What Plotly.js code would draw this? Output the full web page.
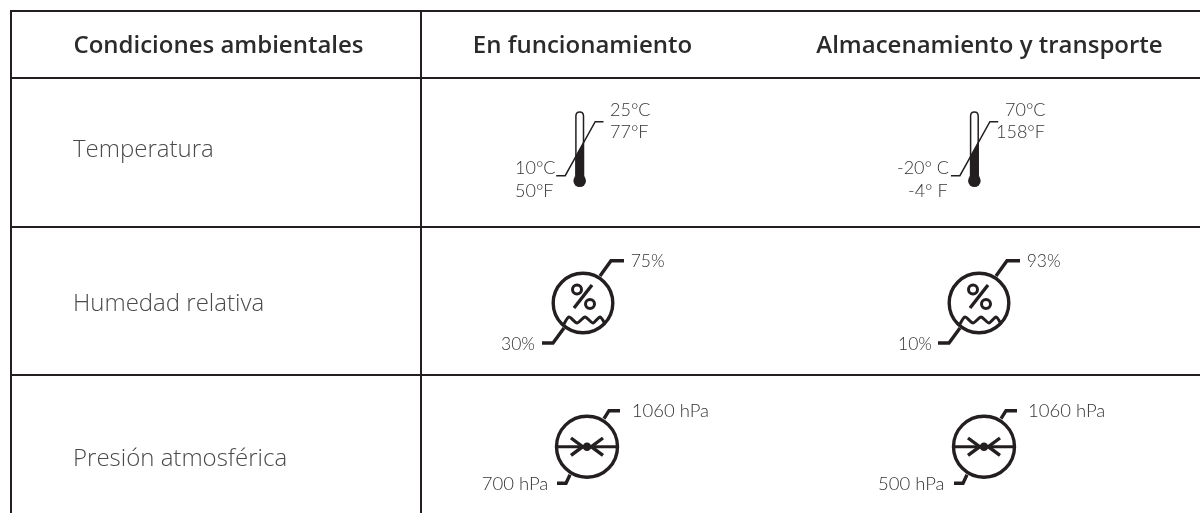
<!DOCTYPE html>
<html>
<head>
<meta charset="utf-8">
<script src="https://cdn.plot.ly/plotly-3.0.1.min.js"></script>
<style>html,body{margin:0;padding:0;background:#fff}#chart{width:1200px;height:514px;will-change:transform}</style>
</head>
<body>
<div id="chart"></div>
<script>
// ---- Table content ----
const columnHeaders = ["Condiciones ambientales", "En funcionamiento", "Almacenamiento y transporte"];
const rowLabels = ["Temperatura", "Humedad relativa", "Presión atmosférica"];
const operatingTemperature = ["25°C", "77°F", "10°C", "50°F"];
const storageTemperature = ["70°C", "158°F", "-20° C", "-4° F"];
const operatingHumidity = ["75%", "30%"];
const storageHumidity = ["93%", "10%"];
const operatingPressure = ["1060 hPa", "700 hPa"];
const storagePressure = ["1060 hPa", "500 hPa"];

// ---- Layout geometry (axes run in page pixels) ----
const INK = "#231f20", TXT = "#444444";
const verticalRules = [11, 421];
const horizontalRules = [11, 78, 227, 375];
const shapes = [];
const traces = [];

function rule(x0, y0, x1, y1) {
  shapes.push({type: "line", xref: "x", yref: "y", x0, y0, x1, y1, line: {color: INK, width: 2}});
}
verticalRules.forEach(x => rule(x, 10, x, 513));
horizontalRules.forEach(y => rule(10, y, 1200, y));

function poly(pts, width, extra) {
  traces.push(Object.assign({
    type: "scatter", mode: "lines", hoverinfo: "skip",
    x: pts.map(p => p[0]), y: pts.map(p => p[1]),
    line: {color: INK, width: width, simplify: false}
  }, extra || {}));
}
function circle(cx, cy, r, width, fill) {
  shapes.push({type: "circle", xref: "x", yref: "y", x0: cx - r, x1: cx + r, y0: cy - r, y1: cy + r,
    line: {color: INK, width: width}, fillcolor: fill ? INK : "rgba(0,0,0,0)"});
}
function label(text, x, y, pos, size, family, weight, color) {
  traces.push({type: "scatter", mode: "text", hoverinfo: "skip", x: [x], y: [y], text: [text],
    textposition: pos,
    textfont: {family: family, size: size, color: color || TXT, weight: weight || 400}});
}
const ICON = "Lato";
function small(t, x, y, size) { label(t, x, y, "middle right", size || 18, ICON, 300, "#333333"); }

function thermometer(cx, texts, xs) {
  const l = cx - 3.8, r = cx + 3.8;
  shapes.push({type: "path", xref: "x", yref: "y",
    path: `M ${l} 176 L ${l} 116 C ${l} 110.5 ${r} 110.5 ${r} 116 L ${r} 176`,
    line: {color: INK, width: 1.5}, fillcolor: "rgba(0,0,0,0)"});
  const x0 = cx - 14.5, x1 = cx + 15.5, y0 = 175.7, y1 = 121.7;
  const at = x => y0 + (x - x0) * (y1 - y0) / (x1 - x0);
  poly([[l, at(l)], [r, at(r)], [r, 178], [l, 178], [l, at(l)]], 0.5, {fill: "toself", fillcolor: INK});
  circle(cx, 180.7, 6.3, 0, true);
  poly([[x0 - 9, y0], [x0, y0], [x1, y1], [x1 + 8.3, y1]], 1.5);
  small(texts[0], xs[0], 111);
  small(texts[1], xs[1], 133.5);
  small(texts[2], xs[2], 169);
  small(texts[3], xs[3], 192.5);
}

function humidity(cx, texts, xs) {
  const cy = 303;
  circle(cx, cy, 29.8, 3.4, false);
  poly([[cx + 17, cy - 27], [cx + 28, cy - 42.3], [cx + 41, cy - 42.3]], 3.4);
  poly([[cx - 19, cy + 25], [cx - 30, cy + 40], [cx - 41, cy + 40]], 3.4);
  poly([[cx + 9, cy - 18], [cx - 9, cy + 5]], 3.4);
  circle(cx - 6, cy - 13.5, 4.5, 3, false);
  circle(cx + 7, cy + 1, 4.5, 3, false);
  poly([[cx - 19, cy + 21], [cx - 14, cy + 14], [cx - 6, cy + 20], [cx + 2, cy + 14],
        [cx + 10, cy + 20], [cx + 17, cy + 14], [cx + 22, cy + 21]],
       3, {line: {color: INK, width: 3, shape: "spline", smoothing: 0.7}});
  small(texts[0], xs[0], 263, 17.5);
  small(texts[1], xs[1], 346, 17.5);
}

function pressure(cx, texts, xs) {
  const cy = 446.7;
  circle(cx, cy, 30.5, 3.4, false);
  poly([[cx - 30, cy], [cx + 30, cy]], 3);
  poly([[cx - 16, cy - 8.7], [cx - 4.3, cy], [cx - 16, cy + 8.7]], 3.4);
  poly([[cx + 16, cy - 8.7], [cx + 4.3, cy], [cx + 16, cy + 8.7]], 3.4);
  circle(cx, cy, 4.3, 0, true);
  poly([[cx + 17, cy - 28], [cx + 22, cy - 36], [cx + 33, cy - 36]], 3.4);
  poly([[cx - 17, cy + 28], [cx - 21, cy + 36.5], [cx - 30, cy + 36.5]], 3.4);
  small(texts[0], xs[0], 412.7, 18.5);
  small(texts[1], xs[1], 485, 18.5);
}

// ---- Table text ----
const HEAD = "Open Sans", BODY = "Open Sans";
const headerCentres = [218.5, 582.5, 989.5];
columnHeaders.forEach((t, i) => label(t, headerCentres[i], 47, "middle center", 24, HEAD, 600, "#2b2b2b"));
const rowCentres = [151, 305, 460];
rowLabels.forEach((t, i) => label(t, 73, rowCentres[i], "middle right", 24, BODY, 300, "#4a4a4a"));

// ---- Icons ----
thermometer(579.7, operatingTemperature, [610, 610, 515, 515]);
thermometer(974.4, storageTemperature, [1005, 996, 897, 908]);
humidity(583, operatingHumidity, [630.7, 501]);
humidity(979, storageHumidity, [1026.7, 898]);
pressure(587, operatingPressure, [631.7, 481.7]);
pressure(984, storagePressure, [1028, 878]);

const layout = {
  width: 1200, height: 514,
  margin: {l: 0, r: 0, t: 0, b: 0, pad: 0},
  paper_bgcolor: "#ffffff", plot_bgcolor: "#ffffff",
  showlegend: false,
  xaxis: {range: [0, 1200], visible: false, fixedrange: true},
  yaxis: {range: [514, 0], visible: false, fixedrange: true},
  shapes: shapes
};
Plotly.newPlot("chart", traces, layout, {staticPlot: true, displayModeBar: false});
</script>
</body>
</html>
